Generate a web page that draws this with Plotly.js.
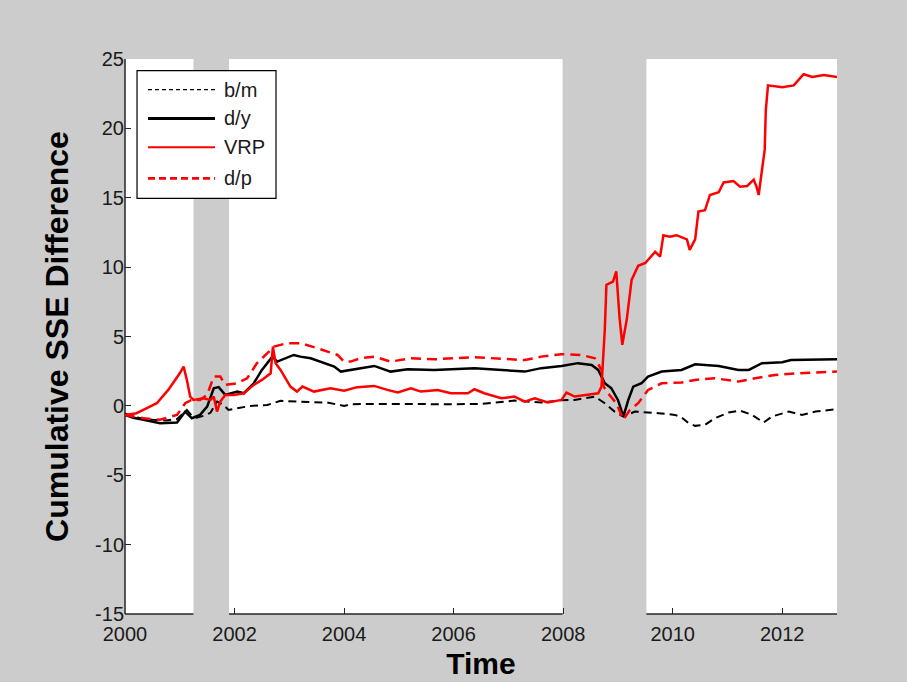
<!DOCTYPE html>
<html>
<head>
<meta charset="utf-8">
<script src="https://cdn.plot.ly/plotly-3.0.1.min.js"></script>
<style>html,body{margin:0;padding:0;background:#cccccc;}#chart{width:907px;height:682px;}</style>
</head>
<body>
<div id="chart"></div>
<script>
// ---- data (decimal years, cumulative SSE difference) ----
const bmT = [2000.0,2000.1,2000.25,2000.5,2000.75,2000.95,2001.05,2001.13,2001.22,2001.31,2001.45,2001.56,2001.68,2001.8,2001.89,2002.05,2002.29,2002.6,2002.84,2003.14,2003.69,2004.0,2004.12,2004.5,2005.0,2005.5,2006.0,2006.5,2006.87,2007.11,2007.6,2007.97,2008.21,2008.58,2008.76,2008.94,2009.1,2009.31,2009.74,2010.04,2010.16,2010.29,2010.41,2010.59,2010.77,2011.02,2011.23,2011.45,2011.66,2011.81,2012.12,2012.36,2012.61,2013.0];
const bmV = [-0.55,-0.7,-0.85,-1.0,-1.05,-0.95,-0.6,-0.3,-0.7,-0.86,-0.7,-0.5,0.31,0.07,-0.29,-0.17,0.0,0.07,0.36,0.31,0.24,0.0,0.12,0.14,0.12,0.14,0.12,0.14,0.31,0.38,0.24,0.4,0.43,0.67,0.19,-0.41,-0.77,-0.41,-0.53,-0.65,-0.82,-1.25,-1.44,-1.37,-0.89,-0.48,-0.34,-0.65,-1.2,-0.77,-0.41,-0.65,-0.41,-0.24];

const dyT = [2000.0,2000.15,2000.34,2000.64,2000.95,2001.1,2001.22,2001.37,2001.5,2001.62,2001.71,2001.83,2002.05,2002.17,2002.35,2002.5,2002.69,2002.78,2003.08,2003.2,2003.39,2003.57,2003.82,2003.94,2004.3,2004.55,2004.85,2005.16,2005.65,2006.38,2007.3,2007.6,2007.97,2008.27,2008.52,2008.64,2008.76,2008.88,2009.0,2009.1,2009.19,2009.28,2009.43,2009.55,2009.8,2010.16,2010.41,2010.84,2011.2,2011.39,2011.63,2012.0,2012.16,2013.0];
const dyV = [-0.65,-0.85,-1.0,-1.25,-1.2,-0.41,-0.89,-0.65,-0.05,1.27,1.35,0.79,1.03,0.91,1.63,2.59,3.55,3.19,3.67,3.55,3.43,3.19,2.83,2.47,2.72,2.88,2.47,2.64,2.59,2.72,2.47,2.72,2.88,3.08,2.95,2.59,1.63,1.27,0.43,-0.75,0.43,1.39,1.63,2.11,2.47,2.59,3.0,2.88,2.59,2.59,3.08,3.15,3.3,3.36];

const vrpT = [2000.0,2000.21,2000.4,2000.58,2000.79,2000.88,2001.0,2001.07,2001.13,2001.19,2001.25,2001.43,2001.56,2001.62,2001.68,2001.74,2001.83,2001.98,2002.17,2002.35,2002.5,2002.66,2002.7,2002.75,2002.84,2003.02,2003.14,2003.24,2003.45,2003.75,2004.0,2004.24,2004.55,2004.79,2004.98,2005.22,2005.4,2005.71,2005.95,2006.26,2006.38,2006.56,2006.87,2007.11,2007.3,2007.48,2007.72,2007.97,2008.06,2008.21,2008.4,2008.64,2008.7,2008.76,2008.79,2008.91,2008.97,2009.03,2009.08,2009.16,2009.25,2009.37,2009.5,2009.68,2009.77,2009.83,2009.95,2010.07,2010.26,2010.31,2010.41,2010.47,2010.59,2010.68,2010.84,2010.93,2011.11,2011.23,2011.36,2011.48,2011.53,2011.57,2011.63,2011.68,2011.7,2011.74,2012.0,2012.21,2012.39,2012.55,2012.76,2013.0];
const vrpV = [-0.65,-0.53,-0.17,0.19,1.15,1.63,2.35,2.83,1.87,0.67,0.43,0.55,0.43,0.67,-0.41,0.31,0.79,0.79,0.91,1.51,1.87,2.35,4.27,3.08,2.59,1.39,1.03,1.39,1.03,1.27,1.1,1.35,1.44,1.15,0.96,1.27,1.03,1.15,0.91,0.91,1.2,0.91,0.55,0.67,0.31,0.55,0.24,0.43,0.96,0.67,0.79,0.91,1.39,5.48,8.72,8.96,9.7,6.32,4.4,6.2,9.08,10.1,10.3,11.1,10.76,12.3,12.2,12.3,12.0,11.24,12.0,14.0,14.1,15.2,15.4,16.1,16.2,15.8,15.85,16.3,15.8,15.2,17.0,18.45,21.3,23.1,22.97,23.1,23.9,23.7,23.85,23.7];

const dpT = [2000.0,2000.34,2000.64,2000.95,2001.1,2001.22,2001.37,2001.5,2001.62,2001.74,2001.83,2002.05,2002.23,2002.41,2002.6,2002.72,2002.96,2003.14,2003.2,2003.51,2003.7,2003.88,2004.0,2004.12,2004.3,2004.55,2004.85,2005.22,2005.65,2006.38,2007.3,2007.6,2007.97,2008.33,2008.58,2008.7,2008.74,2008.82,2008.97,2009.1,2009.22,2009.37,2009.55,2009.8,2010.16,2010.41,2010.77,2011.2,2011.51,2011.87,2012.29,2013.0];
const dpV = [-0.65,-0.89,-1.0,-0.65,0.19,0.43,0.43,0.79,2.11,2.11,1.51,1.63,1.99,3.08,3.8,4.27,4.52,4.56,4.52,4.16,3.9,3.67,3.19,3.19,3.43,3.55,3.19,3.43,3.36,3.51,3.3,3.55,3.72,3.67,3.43,2.59,1.39,0.91,0.19,-1.0,-0.29,0.19,1.15,1.63,1.68,1.87,1.99,1.75,1.99,2.23,2.35,2.47];

const seriesNames = ['b/m','d/y','VRP','d/p'];
const recessions = [[2001.25, 2001.9], [2007.99, 2009.52]];
const xTicks = [2000,2002,2004,2006,2008,2010,2012];
const yTicks = [-15,-10,-5,0,5,10,15,20,25];
const yTickText = ['-15','-10','-5','0','5','10','15','20','25'];

const GRAY = '#cccccc';
const AX = '#262626';

// styles: plot line and legend-sample line for each series
const plotLines = [
  {color: '#000000', width: 2, dash: '8px,5px'},
  {color: '#000000', width: 2.5},
  {color: '#ff0000', width: 2.5},
  {color: '#ff0000', width: 2.5, dash: '10px,6px'}
];
const legendLines = [
  {color: '#000000', width: 1.3, dash: '4px,3px'},
  {color: '#000000', width: 3},
  {color: '#ff0000', width: 2.2},
  {color: '#ff0000', width: 2.6, dash: '7px,4px'}
];

const xs = [bmT, dyT, vrpT, dpT];
const ys = [bmV, dyV, vrpV, dpV];
const traces = seriesNames.map((n, i) => ({x: xs[i], y: ys[i], name: n, mode: 'lines', line: plotLines[i], showlegend: false}));

const shapes = [
  // axis lines (drawn first so the recession bands cover them)
  {type: 'line', xref: 'x domain', yref: 'y domain', x0: 0, x1: 1, y0: 0, y1: 0, layer: 'below', line: {color: AX, width: 1.5}},
  {type: 'line', xref: 'x domain', yref: 'y domain', x0: 0, x1: 0, y0: 0, y1: 1, layer: 'below', line: {color: AX, width: 1.5}}
];
recessions.forEach(r => shapes.push({type: 'rect', xref: 'x', yref: 'paper', x0: r[0], x1: r[1], y0: -0.01, y1: 1.01, layer: 'below', fillcolor: GRAY, line: {width: 0}}));

// legend box (MATLAB style) in plot-area fractions
const legBox = {x0: 0.0169, x1: 0.2121, y0: 0.749, y1: 0.979};
const legRows = [0.945, 0.893, 0.841, 0.785];
const legSample = [0.0323, 0.1264];
const legTextX = 0.1362;
shapes.push({type: 'rect', xref: 'paper', yref: 'paper', x0: legBox.x0, x1: legBox.x1, y0: legBox.y0, y1: legBox.y1, layer: 'above', fillcolor: '#ffffff', line: {color: '#000000', width: 1.2}});
const annotations = [];
seriesNames.forEach((n, i) => {
  shapes.push({type: 'line', xref: 'paper', yref: 'paper', x0: legSample[0], x1: legSample[1], y0: legRows[i], y1: legRows[i], layer: 'above', line: legendLines[i]});
  annotations.push({xref: 'paper', yref: 'paper', x: legTextX, y: legRows[i], text: n, showarrow: false, xanchor: 'left', yanchor: 'middle', font: {size: 20, color: '#1a1a1a'}});
});

const layout = {
  width: 907, height: 682,
  paper_bgcolor: GRAY, plot_bgcolor: '#ffffff',
  margin: {l: 125, r: 70, t: 59, b: 68},
  font: {family: 'Arial, "Liberation Sans", sans-serif', color: '#1a1a1a'},
  showlegend: false,
  xaxis: {range: [2000, 2013], tickvals: xTicks, ticktext: xTicks.map(String), ticks: 'inside', ticklen: 6, tickcolor: AX,
          showgrid: false, zeroline: false, showline: false, tickfont: {size: 20}, ticklabelstandoff: 6,
          title: {text: 'Time', font: {size: 30, color: '#000000', weight: 'bold'}, standoff: 8}},
  yaxis: {range: [-15, 25], tickvals: yTicks, ticktext: yTickText, ticks: 'inside', ticklen: 6, tickcolor: AX,
          showgrid: false, zeroline: false, showline: false, tickfont: {size: 20},
          title: {text: 'Cumulative SSE Difference', font: {size: 32, color: '#000000', weight: 'bold'}, standoff: 16}},
  shapes: shapes,
  annotations: annotations
};

Plotly.newPlot('chart', traces, layout, {displayModeBar: false, staticPlot: true});
</script>
</body>
</html>
